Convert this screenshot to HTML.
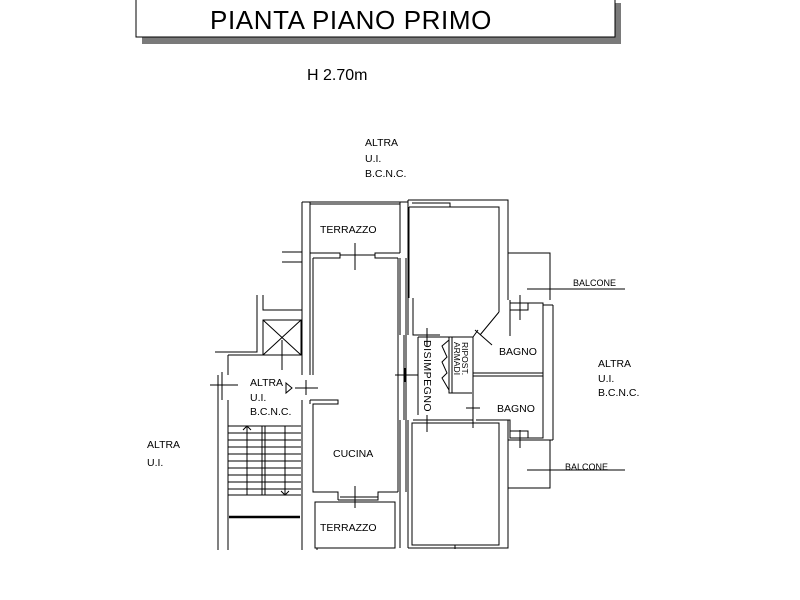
<!DOCTYPE html>
<html><head><meta charset="utf-8"><style>
html,body{margin:0;padding:0;background:#fff}
svg{display:block}
text{font-family:"Liberation Sans",sans-serif;fill:#000}
</style></head><body>
<svg width="800" height="600" viewBox="0 0 800 600" xmlns="http://www.w3.org/2000/svg">
<!-- title box -->
<rect x="142" y="37" width="479" height="7" fill="#7a7a7a"/>
<rect x="615" y="3" width="6" height="41" fill="#7a7a7a"/>
<rect x="136" y="-2" width="479" height="39" fill="#fff" stroke="#000" stroke-width="1"/>
<text x="210" y="29" font-size="26" letter-spacing="0.6">PIANTA PIANO PRIMO</text>
<text x="307" y="80" font-size="16">H  2.70m</text>

<g fill="none" stroke="#000" stroke-width="1">
<!-- top terrazzo -->
<path d="M302 202 V375 M310 202 V375 M302 202 H310 M310 204 H400 M310 202 H400"/>
<path d="M400 202 V253 M408 202 V253 M400 202 H408"/>
<path d="M310 253 H340 V258 H313 M400 253 H375 V258 H398 M340 255 H375"/>
<path d="M355 243 V270"/>
<!-- kitchen -->
<path d="M313 258 V375 M398 258 V492 M406 258 V492"/>
<path d="M302 400 V550 M310 400 H338 V404 H313 V492 H338 V500 M310 400 V404"/>
<path d="M398 492 H378 V500 H338 M340 497 H378 M355 486 V508"/>
<path d="M295 388 H318 M306 380 V395"/>
<!-- bottom terrazzo -->
<path d="M315 502 H395 V548 H315 Z M317 548 V550"/>
<!-- left area -->
<path d="M282 252 H302 M282 262 H302"/>
<path d="M257 295 V352 H215 M263 295 V310 H302"/>
<rect x="263" y="320" width="38" height="35"/>
<path d="M263 320 L301 355 M301 320 L263 355"/>
<path d="M282 340 V370"/>
<path d="M228 355 H270 M228 355 V375 M294 355 H302"/>
<path d="M228 400 V550 M218 400 V550 M218 375 V400 M210 385 H238 M222 372 V400"/>
<path d="M286 383 L292 388 L286 393 Z"/>
<!-- stairs -->
<path d="M228 426 H301 M228 495 H301 M265 426 V495 M262 426 V495"/>
<path d="M228 433 H301 M228 440 H301 M228 447 H301 M228 454 H301 M228 461 H301 M228 468 H301 M228 475 H301 M228 482 H301 M228 489 H301"/>
<path d="M247 427 V495 M285 426 V494 M243 430 L247 426 L251 430 M281 491 L285 495 L289 491"/>
<path d="M229 517 H300" stroke-width="2.5"/>
<!-- right block walls -->
<path d="M408 200 H508 V300 M409 207 H499 V312 M409 207 V298 M413 298 V335 H440 M408 200 V335"/>
<path d="M412 203 H450 V207"/>
<path d="M400 258 V335 M404 335 V420 M400 420 V548 M408 420 V548"/>
<path d="M395 375 H418 M405 368 V382"/>
<path d="M427 328 V347 M427 415 V432 M418 337 H473 V420 H413 M418 415 V337"/>
<!-- ripost -->
<path d="M449 337 V393 H472 M452 337 V393"/>
<path d="M449 340 L442 346 L447 357 L442 362 L447 373 L442 378 L449 390"/>
<path d="M473 420 V428 M466 408 H480"/>
<!-- door & bathroom -->
<path d="M499 312 L480 335 M475 330 L492 345 M473 337 L478 330"/>
<path d="M510 300 V303 H543 V438 H510 V420 H476 M510 303 V336 M473 373 H543 M473 376 H543"/>
<path d="M518 303 H528 V310 H510 M518 438 H528 V431 H510"/>
<path d="M520 295 V320 M520 430 V448"/>
<path d="M553 305 V440 M543 305 H553 M543 440 H553"/>
<!-- balconies -->
<path d="M508 253 H550 V300 M508 253 V300"/>
<path d="M508 440 H550 V488 H508 V440 M508 488 V548"/>
<path d="M527 289 H625 M527 470 H625"/>
<path d="M408 548 H508 V420 M412 423 H499 V545 H412 Z"/>
<path d="M423 545 H455 V549"/>
</g>
<text font-size="10.5" transform="translate(424,340) rotate(90)" letter-spacing="0.5">DISIMPEGNO</text>
<text font-size="8.5" transform="translate(462,342) rotate(90)">RIPOST.</text>
<text font-size="8.5" transform="translate(454,342) rotate(90)">ARMADI</text>
<g font-size="10.5">
<text x="320" y="233">TERRAZZO</text>
<text x="333" y="457">CUCINA</text>
<text x="320" y="531">TERRAZZO</text>
<text x="499" y="355">BAGNO</text>
<text x="497" y="412">BAGNO</text>
<text x="573" y="286" font-size="9">BALCONE</text>
<text x="565" y="470" font-size="9">BALCONE</text>
<text x="365" y="146">ALTRA</text>
<text x="365" y="162">U.I.</text>
<text x="365" y="177">B.C.N.C.</text>
<text x="598" y="367">ALTRA</text>
<text x="598" y="382">U.I.</text>
<text x="598" y="396">B.C.N.C.</text>
<text x="147" y="448">ALTRA</text>
<text x="147" y="466">U.I.</text>
<text x="250" y="386">ALTRA</text>
<text x="250" y="401">U.I.</text>
<text x="250" y="415">B.C.N.C.</text>
</g>
</svg>
</body></html>
